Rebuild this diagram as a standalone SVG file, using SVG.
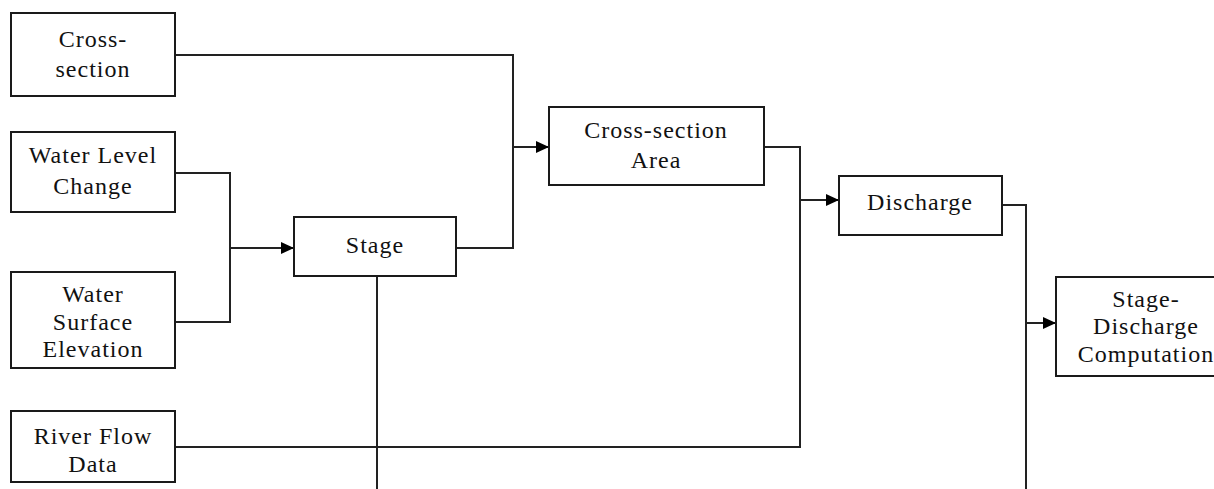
<svg xmlns="http://www.w3.org/2000/svg" width="1214" height="489" viewBox="0 0 1214 489">
<style>
.box{fill:#fff;stroke:#1a1a1a;stroke-width:2}
.lbl{font-family:"Liberation Serif","Times New Roman",serif;font-size:24px;letter-spacing:1px;fill:#111;text-anchor:middle}
.ln{fill:none;stroke:#222;stroke-width:2}
</style>
<defs>
<marker id="ah" markerUnits="userSpaceOnUse" markerWidth="13" markerHeight="12" refX="13" refY="6" orient="auto">
<path d="M0,0 L13,6 L0,12 z" fill="#000"/>
</marker>
</defs>
<rect width="1214" height="489" fill="#fff"/>
<g id="connectors">
<path class="ln" d="M175,55 H513 V248 H456"/>
<path class="ln" d="M513,147 H549" marker-end="url(#ah)"/>
<path class="ln" d="M175,173 H230 V322 H175"/>
<path class="ln" d="M230,248 H294" marker-end="url(#ah)"/>
<path class="ln" d="M377,276 V489"/>
<path class="ln" d="M175,447 H800 V147 H764"/>
<path class="ln" d="M800,200 H839" marker-end="url(#ah)"/>
<path class="ln" d="M1002,205 H1026 V489"/>
<path class="ln" d="M1026,323 H1056" marker-end="url(#ah)"/>
</g>
<g id="cross-section">
<rect class="box" x="11" y="13" width="164" height="83"/>
<text class="lbl" x="93" y="47">Cross-</text>
<text class="lbl" x="93" y="77">section</text>
</g>
<g id="water-level-change">
<rect class="box" x="11" y="132" width="164" height="80"/>
<text class="lbl" x="93" y="163">Water Level</text>
<text class="lbl" x="93" y="194">Change</text>
</g>
<g id="water-surface-elevation">
<rect class="box" x="11" y="272" width="164" height="96"/>
<text class="lbl" x="93" y="302">Water</text>
<text class="lbl" x="93" y="330">Surface</text>
<text class="lbl" x="93" y="357">Elevation</text>
</g>
<g id="river-flow-data">
<rect class="box" x="11" y="411" width="164" height="71"/>
<text class="lbl" x="93" y="444">River Flow</text>
<text class="lbl" x="93" y="472">Data</text>
</g>
<g id="stage">
<rect class="box" x="294" y="217" width="162" height="59"/>
<text class="lbl" x="375" y="253">Stage</text>
</g>
<g id="cross-section-area">
<rect class="box" x="549" y="107" width="215" height="78"/>
<text class="lbl" x="656" y="138">Cross-section</text>
<text class="lbl" x="656" y="168">Area</text>
</g>
<g id="discharge">
<rect class="box" x="839" y="176" width="163" height="59"/>
<text class="lbl" x="920" y="210">Discharge</text>
</g>
<g id="stage-discharge-computation">
<rect class="box" x="1056" y="277" width="180" height="99"/>
<text class="lbl" x="1146" y="307">Stage-</text>
<text class="lbl" x="1146" y="334">Discharge</text>
<text class="lbl" x="1146" y="362">Computation</text>
</g>
</svg>
